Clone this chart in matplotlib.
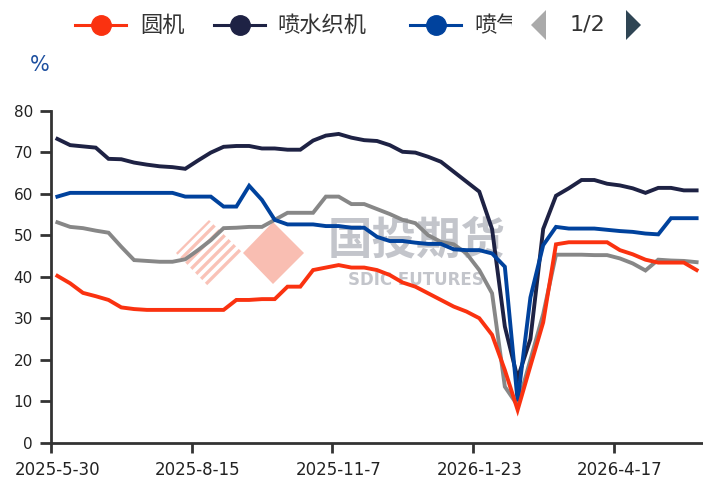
import numpy as np
import matplotlib.pyplot as plt
import matplotlib.lines as mlines
import matplotlib.patches as mpatches

plt.rcParams['font.family'] = ['DejaVu Sans']

# weekly dates (category axis)
dates = ['2025-5-30', '2025-6-6', '2025-6-13', '2025-6-20', '2025-6-27', '2025-7-4',
         '2025-7-11', '2025-7-18', '2025-7-25', '2025-8-1', '2025-8-8', '2025-8-15',
         '2025-8-22', '2025-8-29', '2025-9-5', '2025-9-12', '2025-9-19', '2025-9-26',
         '2025-10-10', '2025-10-17', '2025-10-24', '2025-10-31', '2025-11-7', '2025-11-14',
         '2025-11-21', '2025-11-28', '2025-12-5', '2025-12-12', '2025-12-19', '2025-12-26',
         '2026-1-2', '2026-1-9', '2026-1-16', '2026-1-23', '2026-1-30', '2026-2-6',
         '2026-2-13', '2026-2-27', '2026-3-6', '2026-3-13', '2026-3-20', '2026-3-27',
         '2026-4-3', '2026-4-10', '2026-4-17', '2026-4-24', '2026-5-1', '2026-5-8',
         '2026-5-15', '2026-5-22', '2026-5-29']

yuanji = [40.2, 38.4, 36.1, 35.3, 34.4, 32.6, 32.2, 32.0, 32.0, 32.0, 32.0, 32.0, 32.0,
          32.0, 34.4, 34.4, 34.6, 34.6, 37.6, 37.6, 41.6, 42.2, 42.8, 42.2, 42.2, 41.6,
          40.4, 38.6, 37.6, 36.0, 34.4, 32.8, 31.6, 30.0, 26.0, 17.5, 7.9, 18.5, 29.0,
          47.8, 48.3, 48.3, 48.3, 48.3, 46.4, 45.4, 44.1, 43.4, 43.4, 43.4, 41.6]
penshui = [73.2, 71.7, 71.4, 71.1, 68.4, 68.3, 67.5, 67.0, 66.6, 66.4, 66.0, 68.0, 69.9,
           71.3, 71.5, 71.5, 70.9, 70.9, 70.6, 70.6, 72.8, 74.0, 74.4, 73.5, 72.9, 72.7,
           71.7, 70.1, 69.9, 68.9, 67.7, 65.3, 62.9, 60.5, 51.5, 28.0, 15.5, 25.0, 51.5,
           59.5, 61.3, 63.3, 63.3, 62.4, 62.0, 61.3, 60.2, 61.4, 61.4, 60.8, 60.8]
penqi = [59.3, 60.2, 60.2, 60.2, 60.2, 60.2, 60.2, 60.2, 60.2, 60.2, 59.3, 59.3, 59.3,
         56.9, 56.9, 61.9, 58.5, 53.7, 52.6, 52.6, 52.6, 52.2, 52.2, 51.8, 51.8, 49.6,
         48.6, 48.6, 48.2, 47.9, 47.9, 46.6, 46.4, 46.4, 45.6, 42.4, 10.0, 35.0, 47.6,
         52.0, 51.6, 51.6, 51.6, 51.3, 51.0, 50.8, 50.4, 50.2, 54.1, 54.1, 54.1]
jingbian = [53.1, 52.0, 51.7, 51.1, 50.6, 47.2, 44.0, 43.8, 43.6, 43.6, 44.2, 46.4, 48.8,
            51.7, 51.8, 52.0, 52.0, 53.7, 55.4, 55.4, 55.4, 59.3, 59.3, 57.5, 57.5, 56.3,
            55.1, 53.7, 52.9, 50.0, 48.4, 47.8, 45.6, 41.6, 36.0, 13.5, 9.0, 20.0, 31.0,
            45.3, 45.3, 45.3, 45.2, 45.2, 44.4, 43.2, 41.5, 44.1, 43.9, 43.8, 43.5]

names = ['圆机', '喷水织机', '喷气织机', '经编机']
colors = ['#fa3210', '#1e2244', '#00429d', '#878787']

W, H = 703, 479
fig = plt.figure(figsize=(W / 100, H / 100), dpi=100)


def fx(px):
    return px / W


def fy(py):
    return 1 - py / H


ax = fig.add_axes([fx(51), fy(442.7), 1 - fx(51), (442.7 - 110.7) / H])
ax.patch.set_alpha(0)

x = np.arange(len(dates))
series = [yuanji, penshui, penqi, jingbian]
zorders = [5, 3, 4, 2]
for vals, name, c, z in zip(series, names, colors, zorders):
    ax.plot(x, vals, color=c, lw=2.8, label=name, zorder=z, solid_joinstyle='miter')

ax.set_xlim(-0.5, len(dates) - 0.5)
ax.set_ylim(0, 80)
ax.set_yticks(range(0, 81, 10))
ax.tick_params(axis='y', length=8, width=2, color='#333333', labelsize=11, pad=5,
               labelcolor='#222222')

lab_idx = list(range(0, len(dates), 11))
ax.set_xticks(lab_idx)
ax.set_xticklabels([dates[i] for i in lab_idx])
ax.tick_params(axis='x', which='major', length=0, labelsize=12, pad=13, labelcolor='#222222')
ax.set_xticks([i - 0.5 for i in lab_idx], minor=True)
ax.tick_params(axis='x', which='minor', length=7, width=2, color='#333333')

for s in ['top', 'right']:
    ax.spines[s].set_visible(False)
for s in ['left', 'bottom']:
    ax.spines[s].set_linewidth(2)
    ax.spines[s].set_color('#333333')

# "%" unit
fig.text(fx(40), fy(65), '%', fontsize=15, color='#1d4f9f', ha='center', va='center')

# watermark logo (behind the axes)
wm_col = '#f7a999'
diam = mpatches.Polygon([(fx(243), fy(253)), (fx(273), fy(222)), (fx(304), fy(253)),
                         (fx(273), fy(284))], closed=True, transform=fig.transFigure,
                        facecolor=wm_col, edgecolor='none', alpha=0.75, zorder=-2)
fig.patches.append(diam)
stripe_clip = mpatches.Polygon([(fx(176), fy(253)), (fx(209), fy(220)), (fx(243), fy(253)),
                                (fx(209), fy(287))], closed=True, transform=fig.transFigure,
                               facecolor='none', edgecolor='none')
for c in range(430, 500, 10):
    ln = mlines.Line2D([fx(c - 300), fx(c - 200)], [fy(300), fy(200)], color=wm_col,
                       lw=2.4, alpha=0.7, transform=fig.transFigure, zorder=-2)
    ln.set_clip_path(stripe_clip)
    fig.lines.append(ln)
fig.text(fx(417), fy(241), '国投期货', fontsize=32, fontweight='bold', color='#b9bbc2',
         family=['Noto Sans CJK SC', 'DejaVu Sans'], ha='center', va='center',
         alpha=0.85, zorder=-1)
fig.text(fx(416), fy(280), 'SDIC FUTURES', fontsize=12, fontweight='bold', color='#b9bbc2',
         ha='center', va='center', alpha=0.85, zorder=-1)

# legend (page 1 of 2)
leg_y = 25
leg_items = [(75, 140), (214, 277), (410, 474)]
for (lx, tx), name, c in zip(leg_items, names[:3], colors[:3]):
    fig.lines.append(mlines.Line2D([fx(lx), fx(lx + 51)], [fy(leg_y), fy(leg_y)],
                                   color=c, lw=2.2, transform=fig.transFigure))
    fig.lines.append(mlines.Line2D([fx(lx + 25.5)], [fy(leg_y)], marker='o', ms=14,
                                   color=c, transform=fig.transFigure))
    t = fig.text(fx(tx), fy(leg_y), name, fontsize=16, color='#333333', ha='left',
                 va='center', family=['Noto Sans CJK SC', 'DejaVu Sans'])
    if name == names[2]:
        clip = mpatches.Rectangle((fx(tx - 5), 0), fx(512) - fx(tx - 5), 1,
                                  transform=fig.transFigure, facecolor='none')
        t.set_clip_path(clip)

fig.patches.append(mpatches.Polygon([(fx(531), fy(25)), (fx(546), fy(10)), (fx(546), fy(40))],
                                    closed=True, transform=fig.transFigure,
                                    facecolor='#aaaaaa', edgecolor='none'))
fig.text(fx(587), fy(25), '1/2', fontsize=16, color='#333333', ha='center', va='center')
fig.patches.append(mpatches.Polygon([(fx(626), fy(10)), (fx(641), fy(25)), (fx(626), fy(40))],
                                    closed=True, transform=fig.transFigure,
                                    facecolor='#2f4554', edgecolor='none'))

fig.savefig('out.png', dpi=100)
